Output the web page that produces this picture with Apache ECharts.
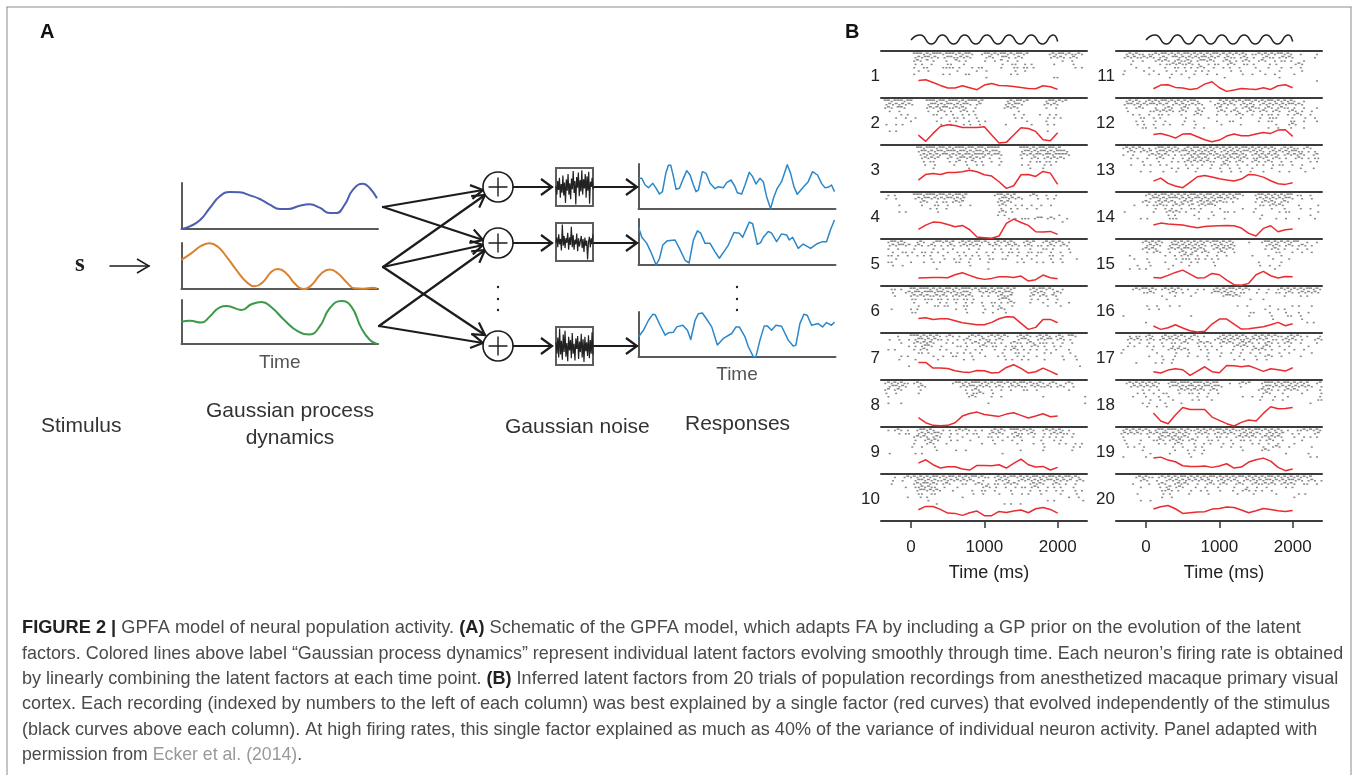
<!DOCTYPE html>
<html><head><meta charset="utf-8">
<style>html,body{margin:0;padding:0;background:#fff}#c{width:1360px;height:775px}</style>
<script src="https://cdn.jsdelivr.net/npm/echarts@6/dist/echarts.min.js"></script>
</head><body><div id="c"></div>
<script>
// ---------- Panel A data (time, value in arbitrary units)
const latentBlue=[[0,0],[25,8],[55,26],[85,63],[115,98],[145,111],[175,110],[205,101],[235,90],[265,73],[295,60],[320,60],[355,70],[385,74],[415,64],[445,48],[465,48],[490,73],[515,118],[545,136],[565,123],[587,92]];
const latentOrange=[[0,86],[30,106],[60,128],[85,135],[110,124],[135,96],[165,56],[195,21],[220,8],[245,21],[270,51],[290,59],[315,46],[340,16],[365,0],[390,11],[420,46],[445,58],[470,46],[495,21],[520,2],[545,1],[575,4],[587,1]];
const latentGreen=[[0,67],[25,70],[60,65],[85,83],[115,111],[135,115],[180,103],[210,120],[240,127],[270,111],[310,71],[350,38],[385,29],[415,53],[445,108],[480,130],[510,113],[540,48],[565,13],[587,0]];
const noise1=[52,30,66,42,74,22,58,35,80,28,62,8,70,40,84,30,60,18,72,44,92,34,66,4,76,48,88,26,68,38,94,30,70,46,84,22,78,40,90,6,64,50,74,44];
const noise2=[48,62,36,70,44,58,28,96,40,66,34,60,48,74,30,62,42,90,36,68,30,56,44,72,26,60,38,52,66,34,58,24,62,40,54,4,50,64,36,60,44,70];
const noise3=[60,30,72,20,96,28,64,14,80,34,90,22,58,10,74,38,66,18,84,30,56,12,70,42,76,16,62,34,82,20,68,8,74,36,60,24,78,18,66,30,86,28];
const response1=[[0,92],[10,92],[20,72],[30,64],[43,77],[53,62],[63,45],[72,52],[82,107],[90,131],[97,131],[105,97],[113,59],[123,62],[135,92],[145,115],[155,102],[165,72],[173,52],[180,57],[192,112],[203,107],[215,77],[230,61],[240,67],[255,64],[265,79],[278,87],[290,67],[297,49],[310,45],[320,72],[333,110],[343,97],[353,75],[365,92],[375,82],[385,37],[397,1],[407,37],[417,62],[430,82],[447,133],[457,107],[467,67],[477,44],[495,65],[510,82],[523,112],[538,102],[550,77],[560,64],[570,65],[580,72],[589,52]];
const response2=[[0,112],[10,82],[25,64],[37,39],[53,0],[63,19],[73,59],[87,72],[110,74],[123,49],[140,14],[152,6],[165,74],[177,101],[187,94],[200,64],[215,64],[230,39],[243,20],[260,44],[270,59],[287,96],[303,94],[313,82],[325,109],[333,127],[343,122],[357,61],[367,66],[375,82],[390,99],[400,94],[415,69],[430,92],[445,89],[453,74],[463,82],[480,49],[495,62],[517,49],[535,62],[553,69],[565,69],[577,104],[589,133]];
const response3=[[0,61],[15,81],[30,111],[43,129],[50,128],[65,96],[80,66],[90,73],[105,75],[115,91],[133,96],[147,81],[157,53],[170,111],[180,131],[192,133],[207,111],[220,91],[237,36],[255,56],[280,71],[293,91],[303,91],[320,61],[330,31],[345,1],[353,1],[365,51],[378,94],[387,94],[400,81],[413,96],[430,93],[450,51],[465,33],[473,36],[485,101],[497,129],[507,126],[520,96],[540,101],[553,91],[565,104],[580,96],[589,106]];
// ---------- Panel B data
const tickValues=[0,1000,2000];
const stimulus=[[0,11],[125,16],[276,7],[428,16],[580,7],[731,16],[883,7],[1034,16],[1186,7],[1337,16],[1489,7],[1640,16],[1792,7],[1943,16],[2000,9.5]];
const latentTimes=[100,200,300,400,500,600,700,800,900,1000,1100,1200,1300,1400,1500,1600,1700,1800,1900,2000];
const f1=[53,55,47,38,30,30,37,31,25,39,44,38,37,35,32,29,28,37,34,26];
const f2=[30,11,35,56,61,59,53,53,53,55,30,6,8,30,52,50,41,16,13,37];
const f3=[36,53,56,53,59,59,61,66,61,52,48,31,11,19,52,53,47,62,57,23];
const f4=[29,42,51,50,44,37,41,28,6,4,2,9,47,60,50,41,22,21,23,14];
const f5=[24,25,26,26,25,34,40,32,24,20,23,28,28,26,30,15,19,33,25,22];
const f6=[44,46,41,43,43,37,31,28,25,25,32,43,49,48,29,11,17,41,41,31];
const f7=[53,53,36,36,35,28,24,23,29,28,21,23,38,46,35,21,25,36,26,16];
const f8=[28,13,5,4,5,13,33,41,45,38,35,32,39,43,35,27,33,40,31,33];
const f9=[33,43,28,18,22,22,15,12,26,26,25,28,18,32,45,28,21,23,12,20];
const f10=[34,44,44,35,24,23,17,25,30,16,16,29,26,30,33,25,37,41,35,24];
const f11=[28,39,40,32,30,26,29,42,49,31,20,24,29,27,26,31,26,37,40,31];
const f12=[32,35,29,21,33,34,25,16,10,15,27,33,28,28,33,38,35,45,46,26];
const f13=[33,42,26,18,13,29,46,50,45,40,36,33,39,53,51,45,34,25,23,28];
const f14=[42,48,45,44,42,38,34,38,39,40,41,40,33,17,9,32,40,22,28,30];
const f15=[26,24,32,41,48,36,24,25,38,34,18,4,2,8,34,44,31,24,29,28];
const f16=[21,11,16,25,15,7,3,5,27,42,42,27,12,13,16,19,25,32,22,28];
const f17=[25,21,30,34,31,14,27,40,25,22,44,43,40,43,35,26,34,31,27,37];
const f18=[42,18,10,36,59,53,53,53,30,20,10,3,14,21,18,41,61,55,56,59];
const f19=[48,51,42,37,25,23,23,24,20,24,31,18,21,36,43,48,39,20,10,15];
const f20=[36,43,47,37,23,25,27,28,36,38,42,41,33,25,31,38,35,31,29,32];
const factors=[f1,f2,f3,f4,f5,f6,f7,f8,f9,f10,f11,f12,f13,f14,f15,f16,f17,f18,f19,f20];
// raster rows: one string per row, one character per 44 ms bin from -410 ms; # dense, - single spike
const r1=["          ###-#-###-###-#-##-  -##-#-##-#-##-#      -#-##-#--#-","          -#-##-#- -##--#-#-    -#-  ##- -#-        -#-#- -#- ","          -#- # -   -  #- -     -  - # -  -             -  -  ","          - -  -    --   -           -  --  - -      -     -  ","          -  --    ---- -   - --     -   -- -- -            - -","           -  -        -     -  -        -  -                ","          -        - -    --            - -                  ","                                -                    --         -"];
const r2=[" ##-###-##    ###-##-###-#-###-#       -#-##-#     -##-#-# "," -#-#-#-#-    -##-#-##-#-##- -#       -#-##-      -#-#-    "," -#- ##-      -#-#-##--#-#-  -        -#-#-        -  -    ","  -  -        -  -#- -  -#- -             -                ","      - -       --  - -  - - -           -  -    -  - -    ","    -  -  -       -   -- -   -           - -       - - -   ","         -       -   - -   -  - -            -     -       "," -  - -           -  -   - -  -       -       -    - -     ","","  - -                                              -       "];
const r3=["           ##-###-##-#-###-##-##-####      ###-#-##-##-#  ","           -##-#-##-###-##-#-##-#-##-      -##-#-##-#-###-  ","            -#-#-#-##-#-#-##-###-#-##-     -#-#-##-##-####- ","            -#-#-#  -# -##-#-#-# -  -      -  -#- -#-#-#-   ","             - --    - -# - #- -  -  -        - -- -- -     ","             -  -     -   -  - -    -      - -    - -       ","                -          -                  -   -         "];
const r4=["  - -     ###-###-##-#-##-#        -##-#-#    -#-  -  -"," -  -     -#-##-#-#-##-#-#          -##-#-#-    -  - -  ","            -#-  - -- -#-#          -#-#-                ","     -      -   --  -   -  -        -#-  - -  -  -  -     ","               - -  -                -  - -  -  -         ","     - -         -                  -#- -                 ","                                    - -                -  ","                                       - - --- -## -#-   -","                                                        - "];
const r5=["  -##-#-   -#-  -##-#-# -#-#-##-#- -#-#-#-  -#-#  -#-#-#- -  ","  -#-##-# -#- -#- - -#- -#-#-#-  #-#- -#-#- -#- -- -#- -#-   ","  -  -    -     -  -  -    -  -    - -  - -   -   -- -    -   ","   -  -- -  -- - -  -  - -   -  - -  - -- -  -- --  -  -  -  ","  -- -  -  - - -   -    - - - -  -     -  -  -  -   --  -     ","    -          -   -  - -  -  -  --  --    -  -     -  -    - ","  --     -   -  - -    --  -     -        - -   - -  -  -     ","   -  -                    -                                  ","                 -               -                            "];
const r6=["   -- -  ##-###-#-#-##-#-###-#-##-#-##-#-#    -#-##-#-  -  ","   -   -#-##-###-##-#-#--##-  #-#-#-#-##-     -#-#-  -#-   ","    -    -#-#-#--#-#- -#-#-#-  - -  -#--#     -# -#- #-    ","         --  --- -- - -- -- -       -##-      - -  -  -    ","          -   -   - -  -  - -  -  -- - -#-    -   -   -   -","           -    -- --    --    -  - -   -          -   -   ","   -     - -           -  -     -   -#-                    ","         --               -    -  -   -                    "];
const r7=["     -   ###-#-#-#- -#- -  -#-#- -#-#-#-  -#-#- -#-#- -#- ##-","  -  -  - -##-#-#-- -  - -#-  -#-- -#-    -##-  -#-## -#- -  ","      -   -#-#-#-   - -   - -#- -#-- -  -#-- -#- --- -  -  - ","        - - -##-  -    -- -   -#- --  - -- -  -#- -  - -     ","  - -     - -#-   - -     -  - -   -  - -#- - - -  -  -   -  ","           -- -      - - - -  -      -   --  -    - -     -  ","      - -       -  -  --    -   -   - -   - -   -       -   - ","     -    -      -       -  -         - -  - -    -     -   -"," ","        -                                                    -"];
const r8=[" -#-#-#-- -#-         -##-#-###-#-#-##-#-#-##-#--#- -#-  -#-   ","  -##-#-   -#-          -#-##-#-#- -#- -#-#-- #-#--#- -#-  -   "," -# -#-     -             - -#-   -  -  -   --  -         -     "," -  -      -              - --#-  -                             ","  -                        -#-    -  -            -            -"," ","  -   -                          -                             -"];
const r9=["  - -#- -  -##-#-  - - -#-#- - -  -#-#- ###-#-#-  -#-#-#- -    ","     - --  -#-#-##-  - -  - --   -#-#-  -#-- -#-  - -#-#-- -   ","          -#-#- -#-  -   -    -  -- -  - -#-   -  - - - -  -   ","          -  -#-#-   - -   -      -  -  -  -     -   - -       ","          -   -#-   -          -   -      -    -  -    - -  - -","         -  -   -                                 -        - - ","                 -     -  -                -      -        -   ","  -       - -                        -                         "];
const r10=["    -  -#-#-#-#-##-#-##-#-#-##-#-- -#-#-##-#-#-##-#-##-#-##-#- ","   -  -   -##-#-#--#-#-#-#-#-  -   -#-#-  -#-#-#-#-##-#-#-# -#-","   -      -#-##-#- -#-   --  -#- - -- -#-#-   -#-#-  -#- -  - ","       -  --#-#--  -   -       -#- -  -  - -- -#-  - - -   -   ","           -##-#-#-   -     -  --  -    -     -  - -  - -   - -","           --  --           -  -    -   -  - -   -     -    -  ","        -   - -          -                                -  - ","              -                                    - -        -","                 -                    - -  -                   "];
const r11=["   -#-#-- --#-##-#-#-##-#-#-#-##-#-#-#-#- --#-#-#-##-#-  -    -","  -#-#--#-#- -#- ##-#-#-#-##-#-# -#-- -#- -  -#-- -#-#-      - ","     -  -   -#-#- -#--#- -##-#-  -#- - -#-  -#-  - -- -   -     ","    -        - --#-#--#- -  - --  -#-  -- -    - -     -#-      ","      -   -    -  -- - - -#-  -  - -  -    -   -   -  -  -      ","  -     -  -   -  -  -  - - -      -  -     -     -      -      ","  -       -  -   -  -   -   -  -       -  -   -  -     -        ","                -     -          -                -             ","                                                              -"];
const r12=["   -#-#- -#-#-##-#-#-#-##-   -  #-#-#-#-##-#-#-##-#-#-#-  -    ","  -##-#-#-##-#-# -#-#--#-#-   -#-#-#- -#-#- -#-#-#-#-##-#-     ","   -  -#-   -  -#-  -#-  - -   -# -  - -#-#-- -#- -#-- -  -   -","   -      --#-#-#- -#-  -#-    -#- -#-  -#- -#- -#-  -#- -  -  ","     - -  -  -- -   -   -#-    -  -  -#-  -  - -- -  - -#-  -  ","       --  - -       -      -         -     -  ---    -   -  - ","      - -   -  -     -  -      -   --       -  --     --  -   -","      - -  -  - -   -   -       -     -          -   -#-        ","        --  -           -  -                   -  -   -   -    "];
const r13=["  -#-#-#- - -##-#-#- -#-##-#-#-#-#-#-#-##-#-#-#-#- -#-#-- -#-  ","   -#- -#-# -##-#-#-##-#-#-#-#- -#-#-#-##-#-#- -#-#-#-##-- - -  ","  -  -    -#-#-#- - --#-#-##-#-#--#-##-#- -#-#-#-#- -#-#-#-  -# ","    - -  -  -#-  -  - -#-#-#- -#-#-#-#-#- --#-# -#- -  -#- - -- ","        -    -   - - -#-#-#-#--  -#- -#-  -#- -#-  -  -     - - ","    -   - -  - -     - -  -  -  -#-  -  -  - -  - --  -  -      ","                 - -  -  -   -  -  -  -   -     -        -   -  ","       -  -   -   -     -       -  -  -  -   -    -  -    -     ","                                                                "];
const r14=["         -#-#-##-#-#-#-##-#-##-#-#-#-##-   -##-#-#-#-## --  -   ","          -##-#-###-#-#-##-#-#-##-#-#-     -#-#-#-#-##-  -  -   ","        -#- -#-#-#- -#-# -#-#-#-#-- -      - -#-#- -#-          ","     -   - --#-- -#-# -# -#-##-             -- -#-#-    -     - ","            -  - -  -  -- -     -      -   -    -   -    -  -   ","  -        -   -#-#- -   -   -   -- -     -       - --        - ","                - -     -     -              -              -  ","       - -      ---      -  -    -          -    -  -   -    -  "];
const r15=["        -#-#-#-  -#-#-#-#-#-#-##-#-#-    -   -##-#-#-#-##  -  - ","         -#-#-  -##-#-#-#-#- -#-#--#-         -#-#- -#- -#- -     ","        -#-#-   -#-#-##-#-#-  -#-#-#-         - -#- -   -  -      ","         - -#-  -  -#- -# -#-  -#-  -            --   -  -  -     ","    -          -  - -#-# -  -  -  -       -    -   -              ","     -   -        - --- -- - - -                -    -          - ","          -    -    -  - -    -             -      -              ","      -   -      -    -       -             -  -  -                 ","    -  - -      -                                -                  "];
const r16=["     -#-##-#- -#-#-#- -  - -  -#-#-##-#-#-  -  -  -#-#-#-#-##-#-  ","        --#-    -#- -   -    -##-#-#- --   -  -  -- -#- -#-#-#-     ","              -   -    -         -##-#-             -    - -        ","               -                         -   -                      ","","         -  -   -  -                 -  -      -      - -   -    ","          -  -                                -   - -                ","                                         --    -    -   -  -          ","  -                    -                 -      -    --  -             ","                                                -        -            ","         -                                                 - -  -     "];
const r17=["    - -- -#-  -#--#-#- -#- -    -#-#-#-#- -#-#-#-#-- -#-#- -   - ","   -#-#- -#- -#-#-#- -#- -    -#-#-#-#--#-#-#-# -- -#-#- -   -#- ","    -  -  -   -  -- -#-  -#-#-  -#-#- -#-#- - -#- - -#-  -    - - ","   - -   - -  -  - -     - - -  -   -#-#- -  -#-  -  -     -      ","  -        -    -#-#-#-   - -  -    -  -  -#-#- -   -  -  -       "," -          -     -   -     -   -  -  -  -  -     -  -      -     ","          -   -   -   -  -  -   -     -    -  -#-  -     -       -","              -  -          -       -  -   -  -                 -","      -     - -  -                                                  "];
const r18=["   -#-#-#-#-#-  -##-###-###-#-##   -  -#-#   -###-#-##-#-#-#  -#-   ","    -#-#-#-#-   -##-#-##-#-##-##-     -      -##-#-#-#-#-#-#-  -#-  ","        - -  -     -#-#-#-#- -#-            -#-#- - -#-#-  -   -#-  ","      - -  -  --   -  -- -  -  -             -#-   -     -     - -  ","     -   -   -  -        -  -          -  -  -   -   -         -    ","          -  -   -     - -   -              -   -  -          --    ","        - -    -    -                                       -    -","         -  -  -                                                     "];
const r19=["  -#-#-#-#- -##-###-#-#--#-#-#-##-#-#--#-#-##-#-#-#- -  --#-#-#-# "," -#-#-#- -#-#-##-#-#-#- -#-#- -#-#-#- -#-#-#- -#-#-#  - -    -#   ","  -       -  -#-#-#--#-  -  -  -- -  -#-#-#- -#-#-#-   -  - - -    ","  -    -   --#- -#-#- -#-   -- -   -  -- -  - -#-  -     -          ","   -   -     - -  -#-   -  - -   -  -     - -  -  -    -           -","   - -  -        -  -   - -     -  -  -      -  -#-  -      -       ","        -         -   - -  -           -     -#-                    ","          -     -     -   -                         -      -    -   ","  -      -             -                                    - -   -"];
const r20=["      -#-#-- -#-#-#-##-#-#-#-##-#-#-#-##-#-#-#-##-#-#-#-#-#-#   -  ","       -#-  -  -#-#-#-#-#-#-#- -#-#-#- -#-#-#-##-#-#-##-#- -#- -    ","     -    -  -#-  -#-#-  -  -#- -#-  -#-  -#--#-#- -#-#-  --  -     ","       -     - -# -#-   -  -   -    -   -  -  -     - -             ","              --#- -   -  - -   -   -  -#- - -  -                   ","      -       - -     -     -        -    -      -      - -         ","              -  -                                     -            ","       -  -                                                         "];
const rasters=[r1,r2,r3,r4,r5,r6,r7,r8,r9,r10,r11,r12,r13,r14,r15,r16,r17,r18,r19,r20];
const trialLabels=["1","2","3","4","5","6","7","8","9","10","11","12","13","14","15","16","17","18","19","20"];
const captionLines=[
"{b|FIGURE 2 |} GPFA model of neural population activity. {b|(A)} Schematic of the GPFA model, which adapts FA by including a GP prior on the evolution of the latent",
"factors. Colored lines above label “Gaussian process dynamics” represent individual latent factors evolving smoothly through time. Each neuron’s firing rate is obtained",
"by linearly combining the latent factors at each time point. {b|(B)} Inferred latent factors from 20 trials of population recordings from anesthetized macaque primary visual",
"cortex. Each recording (indexed by numbers to the left of each column) was best explained by a single factor (red curves) that evolved independently of the stimulus",
"(black curves above each column). At high firing rates, this single factor explained as much as 40% of the variance of individual neuron activity. Panel adapted with",
"permission from {g|Ecker et al. (2014)}."];
const captionScale=[.959,.943,.950,.949,.948,.931];

// ---------- build
const FONT='"Liberation Sans",Arial,sans-serif';
const grids=[],xAxes=[],yAxes=[],series=[],graphic=[];
function addGrid(g,xa,ya){
  grids.push(g);const gi=grids.length-1;
  xAxes.push(Object.assign({type:'value',gridIndex:gi,splitLine:{show:false},axisTick:{show:false},axisLabel:{show:false},axisLine:{show:false}},xa));
  const yi=yAxes.length;
  yAxes.push(Object.assign({type:'value',gridIndex:gi,splitLine:{show:false},axisTick:{show:false},axisLabel:{show:false},axisLine:{show:false}},ya));
  return {x:xAxes.length-1,y:yi,g:gi};
}
function line(ax,data,color,width,smooth,mono){
  series.push({type:'line',xAxisIndex:ax.x,yAxisIndex:ax.y,data,symbol:'none',smooth:smooth||false,smoothMonotone:mono,clip:false,lineStyle:{color,width,join:'round'},silent:true});
}
const axisA={show:true,onZero:false,lineStyle:{color:'#5a5a5a',width:2}};
// latent factors
[[latentBlue,'#4b5fae',183,46,138],[latentOrange,'#d9822f',243,46,136],[latentGreen,'#3c9a4a',300,44,133]].forEach((d,i)=>{
  const xa={min:0,max:590,axisLine:axisA};
  if(i===2) Object.assign(xa,{name:'Time',nameLocation:'middle',nameGap:9,nameTextStyle:{fontFamily:FONT,fontSize:19,color:'#555'}});
  const ax=addGrid({left:181.5,width:196.5,top:d[2],height:d[3]},xa,{min:0,max:d[4],axisLine:axisA});
  line(ax,d[0],d[1],2,0.5);
});
// noise boxes
[[noise1,168],[noise2,223],[noise3,327]].forEach(d=>{
  const ax=addGrid({left:556,width:37,top:d[1],height:38,show:true,borderColor:'#5e5e5e',borderWidth:2,backgroundColor:'transparent'},{type:'category',boundaryGap:false,data:d[0].map((_,i)=>i)},{min:0,max:100});
  series.push({type:'line',xAxisIndex:ax.x,yAxisIndex:ax.y,data:d[0],symbol:'none',lineStyle:{color:'#222',width:1.2},silent:true});
});
// responses
[[response1,164,45,135],[response2,219,46,136],[response3,312,45,136]].forEach((d,i)=>{
  const xa={min:0,max:592,axisLine:axisA};
  if(i===2) Object.assign(xa,{name:'Time',nameLocation:'middle',nameGap:8,nameTextStyle:{fontFamily:FONT,fontSize:19,color:'#555'}});
  const ax=addGrid({left:638.5,width:197,top:d[1],height:d[2]},xa,{min:0,max:d[3],axisLine:axisA});
  line(ax,d[0],'#2a87c9',1.5,false);
});
// panel B
const axisB={show:true,onZero:false,lineStyle:{color:'#3c3c3c',width:2}};
const colLeft=[881,1116];
colLeft.forEach(left=>{
  const ax=addGrid({left,width:206,top:30,height:21},{min:-410,max:2400,axisLine:axisB},{min:0,max:21});
  line(ax,stimulus,'#222',1.6,0.6,'x');
});
factors.forEach((f,i)=>{
  const col=i<10?0:1,row=i%10,left=colLeft[col],top=51+47*row;
  const xa={min:-410,max:2400,axisLine:axisB};
  if(row===9) Object.assign(xa,{
    axisTick:{show:true,customValues:tickValues,length:7,lineStyle:{color:'#333',width:1.5}},
    axisLabel:{show:true,customValues:tickValues,margin:18,fontFamily:FONT,fontSize:17,color:'#222',formatter:v=>String(v)},
    name:'Time (ms)',nameLocation:'middle',nameGap:43,nameTextStyle:{fontFamily:FONT,fontSize:18,color:'#222',padding:[0,0,0,10]}});
  const ax=addGrid({left,width:206,top,height:47},xa,{min:0,max:142});
  // raster on a second y axis counted in rows from the top of the panel
  yAxes.push({type:'value',gridIndex:ax.g,min:0,max:14.2,inverse:true,splitLine:{show:false},axisTick:{show:false},axisLabel:{show:false},axisLine:{show:false}});
  const ry=yAxes.length-1,pts=[];
  rasters[i].forEach((s,r)=>{for(let c=0;c<s.length;c++){const ch=s[c];if(ch==='#'||ch==='-')pts.push([-410+(c+(r%2?0.7:0.3))*44,r+(ch==='#'?0.65:1.05),ch==='#'?1:0]);}});
  series.push({type:'scatter',xAxisIndex:ax.x,yAxisIndex:ry,data:pts,symbol:'rect',symbolSize:v=>v[2]?[3,1.5]:[2,1.5],itemStyle:{color:'#555',opacity:.7},silent:true,z:1});
  series.push({type:'line',xAxisIndex:ax.x,yAxisIndex:ax.y,data:latentTimes.map((t,k)=>[t,f[k]]),symbol:'none',lineStyle:{color:'#ea2b30',width:1.5},silent:true,z:3});
  graphic.push({type:'text',x:left-1,y:top+25,z:50,style:{text:trialLabels[i],font:'17px '+FONT,fill:'#222',align:'right',verticalAlign:'middle'}});
});
// ---------- schematic
const INK='#1c1c1c';
function seg(a,b,w,c,z){graphic.push({type:'line',z:z||20,shape:{x1:a[0],y1:a[1],x2:b[0],y2:b[1]},style:{stroke:c||INK,lineWidth:w||2,lineCap:'round'}});}
function arrow(a,b,w,hl,hw){
  seg(a,b,w);
  const dx=b[0]-a[0],dy=b[1]-a[1],L=Math.hypot(dx,dy),ux=dx/L,uy=dy/L;
  graphic.push({type:'polyline',z:20,shape:{points:[[b[0]-ux*hl-uy*hw,b[1]-uy*hl+ux*hw],b,[b[0]-ux*hl+uy*hw,b[1]-uy*hl-ux*hw]]},style:{stroke:INK,lineWidth:w||2,fill:null,lineJoin:'miter'}});
}
[[[383,207],[483,190]],[[383,207],[483,240]],[[383,267],[485,195]],[[383,267],[483,245]],[[383,267],[485,335]],[[379,326],[485,250]],[[379,326],[483,343]]].forEach(p=>arrow(p[0],p[1],2.2,12,7));
[187,243,346].forEach(y=>{
  graphic.push({type:'circle',z:21,shape:{cx:498,cy:y,r:15},style:{stroke:INK,lineWidth:1.6,fill:'#fff'}});
  seg([489,y],[507,y],1.4,INK,22);seg([498,y-9],[498,y+9],1.4,INK,22);
  arrow([513,y],[552,y],2.2,11,8);
  arrow([594,y],[637,y],2.2,11,8);
});
[[498,287],[498,299],[498,310],[737,287],[737,299],[737,310]].forEach(p=>graphic.push({type:'circle',z:20,shape:{cx:p[0],cy:p[1],r:1.2},style:{fill:'#222'}}));
arrow([110,266],[149,266],1.5,12,7);
function label(t,x,y,size,opt){graphic.push({type:'text',x,y,z:30,style:Object.assign({text:t,font:size+'px '+FONT,fill:'#333',align:'left',verticalAlign:'middle'},opt||{})});}
label('A',40,32,20,{font:'bold 20px '+FONT,fill:'#111'});
label('B',845,32,20,{font:'bold 20px '+FONT,fill:'#111'});
label('s',75,265,25,{font:'bold 25px "Liberation Serif",serif',fill:'#222'});
label('Stimulus',41,426,21);
label('Gaussian process',290,411,21,{align:'center'});
label('dynamics',290,438,21,{align:'center'});
label('Gaussian noise',505,427,21);
label('Responses',685,424,21);
// frame
seg([7,7],[1351,7],1,'#8c8c8c');seg([7,7],[7,775],1,'#8c8c8c');seg([1351,7],[1351,775],1,'#8c8c8c');
// caption
captionLines.forEach((t,i)=>{
  graphic.push({type:'text',x:22,y:628+25.4*i,scaleX:captionScale[i],z:30,style:{text:t,font:'19px '+FONT,fill:'#4a4a4a',verticalAlign:'middle',
    rich:{b:{font:'bold 19px '+FONT,fill:'#222'},g:{font:'19px '+FONT,fill:'#999'}}}});
});
const chart=echarts.init(document.getElementById('c'),null,{renderer:'canvas'});
chart.setOption({animation:false,backgroundColor:'#fff',grid:grids,xAxis:xAxes,yAxis:yAxes,series,graphic:{elements:graphic}});
</script></body></html>
